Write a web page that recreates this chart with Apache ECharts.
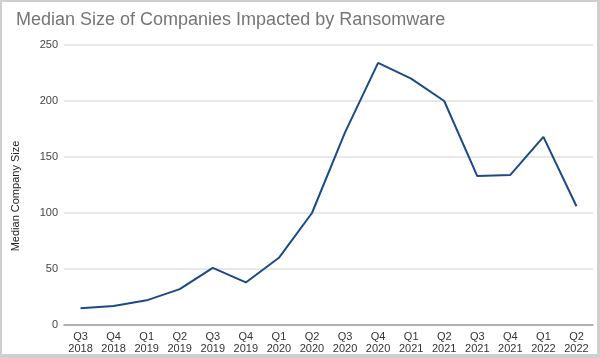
<!DOCTYPE html>
<html>
<head>
<meta charset="utf-8">
<script src="https://cdn.jsdelivr.net/npm/echarts@6/dist/echarts.min.js"></script>
<style>
html,body{margin:0;padding:0;background:#fff;}
#main{width:600px;height:358px;}
</style>
</head>
<body>
<div id="main"></div>
<script>
const categories = ["Q3\n2018","Q4\n2018","Q1\n2019","Q2\n2019","Q3\n2019","Q4\n2019","Q1\n2020","Q2\n2020","Q3\n2020","Q4\n2020","Q1\n2021","Q2\n2021","Q3\n2021","Q4\n2021","Q1\n2022","Q2\n2022"];
const medianSize = [15,17,22,32,51,38,60,100,172,234,220,200,133,134,168,106];
const yTicks = [0,50,100,150,200,250];

const chart = echarts.init(document.getElementById('main'), null, {renderer:'canvas'});
chart.setOption({
  backgroundColor:'#ffffff',
  animation:false,
  title:{
    text:'Median Size of Companies Impacted by Ransomware',
    left:11, top:6,
    textStyle:{fontFamily:'Liberation Sans, Arial, sans-serif', fontSize:18, fontWeight:'normal', color:'#757575'}
  },
  grid:{left:64, right:7, top:45, bottom:33, containLabel:false},
  xAxis:{
    type:'category',
    data:categories,
    boundaryGap:true,
    axisLine:{lineStyle:{color:'#9e9e9e', width:1.5}},
    axisTick:{show:false},
    axisLabel:{fontFamily:'Liberation Sans, Arial, sans-serif', fontSize:11, color:'#333', lineHeight:12, margin:6, interval:0}
  },
  yAxis:{
    type:'value',
    min:yTicks[0], max:yTicks[yTicks.length-1], interval:50,
    name:'Median Company Size',
    nameLocation:'middle',
    nameGap:43,
    nameTextStyle:{fontFamily:'Liberation Sans, Arial, sans-serif', fontSize:11, color:'#222', padding:[0,22,0,0]},
    axisLine:{show:false},
    axisTick:{show:false},
    axisLabel:{fontFamily:'Liberation Sans, Arial, sans-serif', fontSize:11, color:'#444', margin:6},
    splitLine:{lineStyle:{color:'#e0e0e0', width:1.5}}
  },
  series:[{
    type:'line',
    data:medianSize,
    symbol:'none',
    lineStyle:{color:'#1c4a86', width:2},
    z:3
  }],
  graphic:[
    {type:'rect', shape:{x:0,y:0,width:600,height:2}, style:{fill:'#cfcfcf'}, silent:true},
    {type:'rect', shape:{x:0,y:0,width:2,height:358}, style:{fill:'#cfcfcf'}, silent:true},
    {type:'rect', shape:{x:597,y:0,width:3,height:358}, style:{fill:'#cfcfcf'}, silent:true},
    {type:'rect', shape:{x:0,y:354,width:600,height:4}, style:{fill:'#cfcfcf'}, silent:true}
  ]
});
</script>
</body>
</html>
